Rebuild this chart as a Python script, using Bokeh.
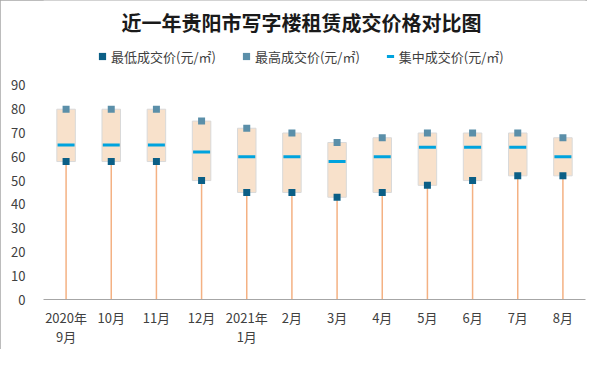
from bokeh.plotting import figure
from bokeh.models import (FactorRange, Range1d, FixedTicker, Label, Legend,
                          LegendItem)
from bokeh.embed import file_html
from bokeh.resources import INLINE

# ---- data ----
months = ["2020年\n9月", "10月", "11月", "12月", "2021年\n1月", "2月",
          "3月", "4月", "5月", "6月", "7月", "8月"]
min_price = [58, 58, 58, 50, 45, 45, 43, 45, 48, 50, 52, 52]
max_price = [80, 80, 80, 75, 72, 70, 66, 68, 70, 70, 70, 68]
mid_price = [65, 65, 65, 62, 60, 60, 58, 60, 64, 64, 64, 60]
y_ticks = [0, 10, 20, 30, 40, 50, 60, 70, 80, 90]

title_text = "近一年贵阳市写字楼租赁成交价格对比图"
label_min = "最低成交价(元/㎡)"
label_max = "最高成交价(元/㎡)"
label_mid = "集中成交价(元/㎡)"

FONT = "Noto Sans CJK SC"
W, H = 587, 349
L, R, B = 43, 2, 48
FRAME_H = H - B              # frame spans from canvas top to the x axis
TOP90 = 85.5                 # canvas y of the value 90
Y_TOP = 90 * FRAME_H / (FRAME_H - TOP90)

p = figure(width=W, height=H, x_range=FactorRange(*months),
           y_range=Range1d(0, Y_TOP), output_backend="svg",
           toolbar_location=None, min_border_left=L, min_border_right=R,
           min_border_top=0, min_border_bottom=B,
           background_fill_color="white", border_fill_color="white",
           styles={"outline": "1px solid #A6A6A6", "outline-offset": "-1px"})
p.outline_line_color = None
p.xgrid.grid_line_color = None
p.ygrid.grid_line_color = None

# whiskers from 0 to min
p.segment(x0=months, y0=[0] * len(months), x1=months, y1=min_price,
          line_color="#F4B183", line_width=1.5)
# boxes min..max
p.vbar(x=months, width=0.41, bottom=min_price, top=max_price,
       fill_color="#F8E1CB", line_color="#D9D9D9", line_width=1)
r_mid = p.scatter(x=months, y=mid_price, marker="dash", size=17,
                  line_color="#00A3DE", line_width=3)
r_max = p.scatter(x=months, y=max_price, marker="square", size=7,
                  fill_color="#5B8FA9", line_color=None)
r_min = p.scatter(x=months, y=min_price, marker="square", size=7,
                  fill_color="#0B5F86", line_color=None)

# axes
p.yaxis.ticker = FixedTicker(ticks=y_ticks)
p.yaxis.axis_line_color = None
p.yaxis.major_tick_line_color = None
p.yaxis.minor_tick_line_color = None
p.yaxis.major_label_standoff = 12
p.xaxis.axis_line_color = "#A6A6A6"
p.xaxis.major_tick_line_color = None
p.xaxis.minor_tick_line_color = None
p.xaxis.major_label_standoff = 2
p.xaxis.major_label_text_line_height = 1.05
for ax in (p.xaxis, p.yaxis):
    ax.major_label_text_font = FONT
    ax.major_label_text_font_size = "13px"
    ax.major_label_text_color = "#404040"

# title (inside the tall frame, above the value area)
p.add_layout(Label(x=301 - L, y=FRAME_H - 24, x_units="screen", y_units="screen",
                   text=title_text, text_align="center", text_baseline="middle",
                   text_font=FONT, text_font_size="20px",
                   text_font_style="bold", text_color="#1A1A1A"))

# legend
leg = Legend(items=[LegendItem(label=label_min, renderers=[r_min]),
                    LegendItem(label=label_max, renderers=[r_max]),
                    LegendItem(label=label_mid, renderers=[r_mid])],
             location=(93 - L, FRAME_H - 67.5), orientation="horizontal",
             glyph_width=18, glyph_height=18, label_height=18,
             label_standoff=0, padding=0, margin=0, spacing=21,
             border_line_color=None, background_fill_alpha=0,
             label_text_font=FONT, label_text_font_size="13px",
             label_text_color="#404040")
p.add_layout(leg)

open("out.html", "w").write(file_html(p, INLINE))
